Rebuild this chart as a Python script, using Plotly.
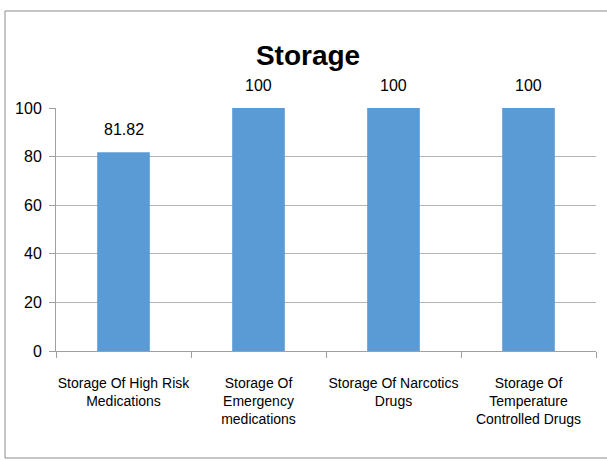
import plotly.graph_objects as go

categories = [
    "Storage Of High Risk<br>Medications",
    "Storage Of<br>Emergency<br>medications",
    "Storage Of Narcotics<br>Drugs",
    "Storage Of<br>Temperature<br>Controlled Drugs",
]
values = [81.82, 100, 100, 100]
labels = ["81.82", "100", "100", "100"]
y_ticks = [0, 20, 40, 60, 80, 100]

FONT = "Liberation Sans, Arial, sans-serif"

fig = go.Figure(
    go.Bar(
        x=categories,
        y=values,
        marker=dict(color="#5b9bd5", line=dict(width=0)),
        width=0.39,
    )
)

for c, v, t in zip(categories, values, labels):
    fig.add_annotation(
        x=c, y=v, text=t, showarrow=False, yanchor="bottom", yshift=12,
        font=dict(size=16, color="#000000", family=FONT),
    )

L, R, T, B = 56, 11, 108, 110
W, H = 607, 461
pw, ph = W - L - R, H - T - B

fig.update_layout(
    width=W,
    height=H,
    margin=dict(l=L, r=R, t=T, b=B, autoexpand=False),
    paper_bgcolor="white",
    plot_bgcolor="white",
    showlegend=False,
    title=dict(
        text="<b>Storage</b>",
        x=308 / W,
        xanchor="center",
        y=1 - 55 / H,
        yanchor="middle",
        font=dict(size=28, family=FONT, color="#000000"),
    ),
    font=dict(family=FONT, size=15, color="#000000"),
    xaxis=dict(
        automargin=False,
        tickangle=0,
        showline=True,
        linecolor="#a0a0a0",
        linewidth=1,
        ticks="outside",
        tickson="boundaries",
        ticklen=6,
        tickcolor="#a0a0a0",
        ticklabelstandoff=19,
        tickfont=dict(size=14, family=FONT),
        showgrid=False,
    ),
    yaxis=dict(
        automargin=False,
        range=[0, 100],
        tickvals=y_ticks,
        showline=True,
        linecolor="#a0a0a0",
        linewidth=1,
        ticks="outside",
        ticklen=6,
        tickcolor="#a0a0a0",
        ticklabelstandoff=4,
        showgrid=True,
        gridcolor="#b4b4b4",
        gridwidth=1,
        zeroline=False,
        tickfont=dict(size=16, family=FONT),
    ),
    shapes=[
        dict(
            type="rect",
            xref="paper",
            yref="paper",
            x0=(5 - L) / pw,
            x1=(W + 5 - L) / pw,
            y0=-(458 - (H - B)) / ph,
            y1=1 + (T - 11) / ph,
            line=dict(color="#8c8c8c", width=1),
            fillcolor="rgba(0,0,0,0)",
            layer="below",
        )
    ],
)

fig.write_html("out.html")
